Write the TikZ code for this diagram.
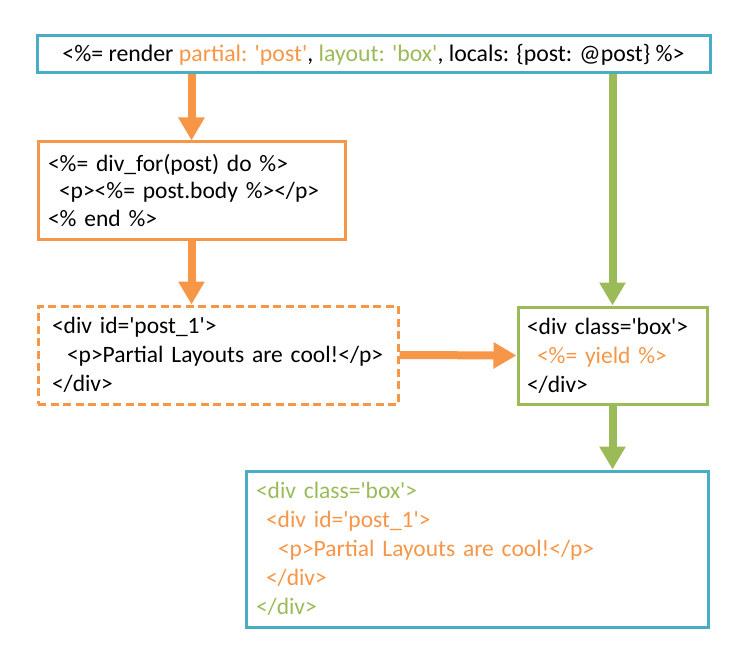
\documentclass[tikz,border=0pt]{standalone}
\usepackage{fontspec}
\newfontfamily\calfont{Carlito}
\usetikzlibrary{arrows.meta}
\definecolor{OOrange}{HTML}{F79646}
\definecolor{OGreen}{HTML}{9BBB59}
\definecolor{OBlue}{HTML}{4BACC6}
\begin{document}
\begin{tikzpicture}[x=1pt,y=-1pt,
  box/.style={draw, line width=3pt, fill=white, align=left, inner ysep=0pt,
    font=\calfont\fontsize{23.5}{29}\selectfont},
  arr/.style={line width=8pt, -{Triangle[length=23pt,width=25pt]}},
]
\useasboundingbox (0,0) rectangle (743,668);
\node[box, draw=OBlue, align=center, minimum width=673pt, minimum height=37pt, inner sep=0pt,
  font=\calfont\fontsize{23.8}{29}\selectfont]
  (top) at (373.5,54.5)
  {<\%= render \textcolor{OOrange}{partial: 'post'}, \textcolor{OGreen}{layout: 'box'}, locals: \{post: @post\} \%>};
\node[box, draw=OOrange, inner xsep=10pt, text width=287pt, minimum height=97pt,
  font=\calfont\fontsize{23.5}{27.5}\selectfont]
  (b2) at (191.5,190.5)
  {<\%= div\_for(post) do \%>\\\hspace*{11pt}<p><\%= post.body \%></p>\\<\% end \%>};
\node[box, draw=OOrange, dash pattern=on 8pt off 4.5pt, inner xsep=13pt, text width=334pt, minimum height=98pt]
  (b3) at (218,355)
  {\hspace*{1pt}<div id='post\_1'>\\\hspace*{16pt}<p>Partial Layouts are cool!</p>\\\hspace*{1pt}</div>};
\node[box, draw=OGreen, inner xsep=9pt, text width=171pt, minimum height=97pt]
  (b4) at (612.5,355.5)
  {<div class='box'>\\\hspace*{10pt}\textcolor{OOrange}{<\%= yield \%>}\\</div>};
\node[box, draw=OBlue, inner xsep=10pt, text width=442pt, minimum height=156pt]
  (b5) at (477,549)
  {\textcolor{OGreen}{<div class='box'>}\\
   \hspace*{10pt}\textcolor{OOrange}{<div id='post\_1'>}\\
   \hspace*{22pt}\textcolor{OOrange}{<p>Partial Layouts are cool!</p>}\\
   \hspace*{10pt}\textcolor{OOrange}{</div>}\\
   \textcolor{OGreen}{</div>}};
\draw[arr, OOrange] (top.south -| b2.north) -- (b2.north);
\draw[arr, OGreen] (top.south -| b4.north) -- (b4.north);
\draw[arr, OOrange] (b2.south) -- (b3.north -| b2.south);
\draw[arr, OOrange] (b3.east) -- (b4.west);
\draw[arr, OGreen] (b4.south) -- (b5.north -| b4.south);
\end{tikzpicture}
\end{document}
